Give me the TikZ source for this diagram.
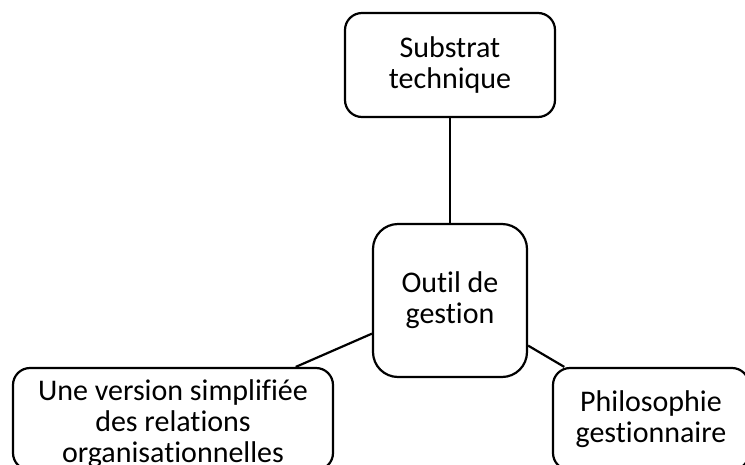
\documentclass[tikz,border=0pt]{standalone}
\usepackage{fontspec}
\setmainfont{Carlito}[Ligatures=NoCommon]
\usepackage{tikz}

\begin{document}
\begin{tikzpicture}[x=1pt, y=1pt, line width=2.2pt,
 boite/.style={draw, rounded corners=17pt, align=center, inner sep=0pt,
  font=\fontsize{30}{31}\selectfont}]

\useasboundingbox (0,0) rectangle (745,-464);

\node[boite, minimum width=210pt, minimum height=104pt] (substrat) at (450,-65) {Substrat\\technique};
\node[boite, rounded corners=25pt, minimum width=154pt, minimum height=153pt] (outil) at (450,-300.5) {Outil de\\gestion};
\node[boite, minimum width=320pt, minimum height=102pt] (version) at (173,-419) {\rule{0pt}{30pt}Une version simplifiée\\des relations\\organisationnelles};
\node[boite, minimum width=196pt, minimum height=102pt] (philo) at (651,-419) {Philosophie\\gestionnaire};

\foreach \i/\j in {substrat.south/outil.north, outil.203.5/version.23, outil.330/philo.149}
\draw (\i) -- (\j);

\end{tikzpicture}
\end{document}
